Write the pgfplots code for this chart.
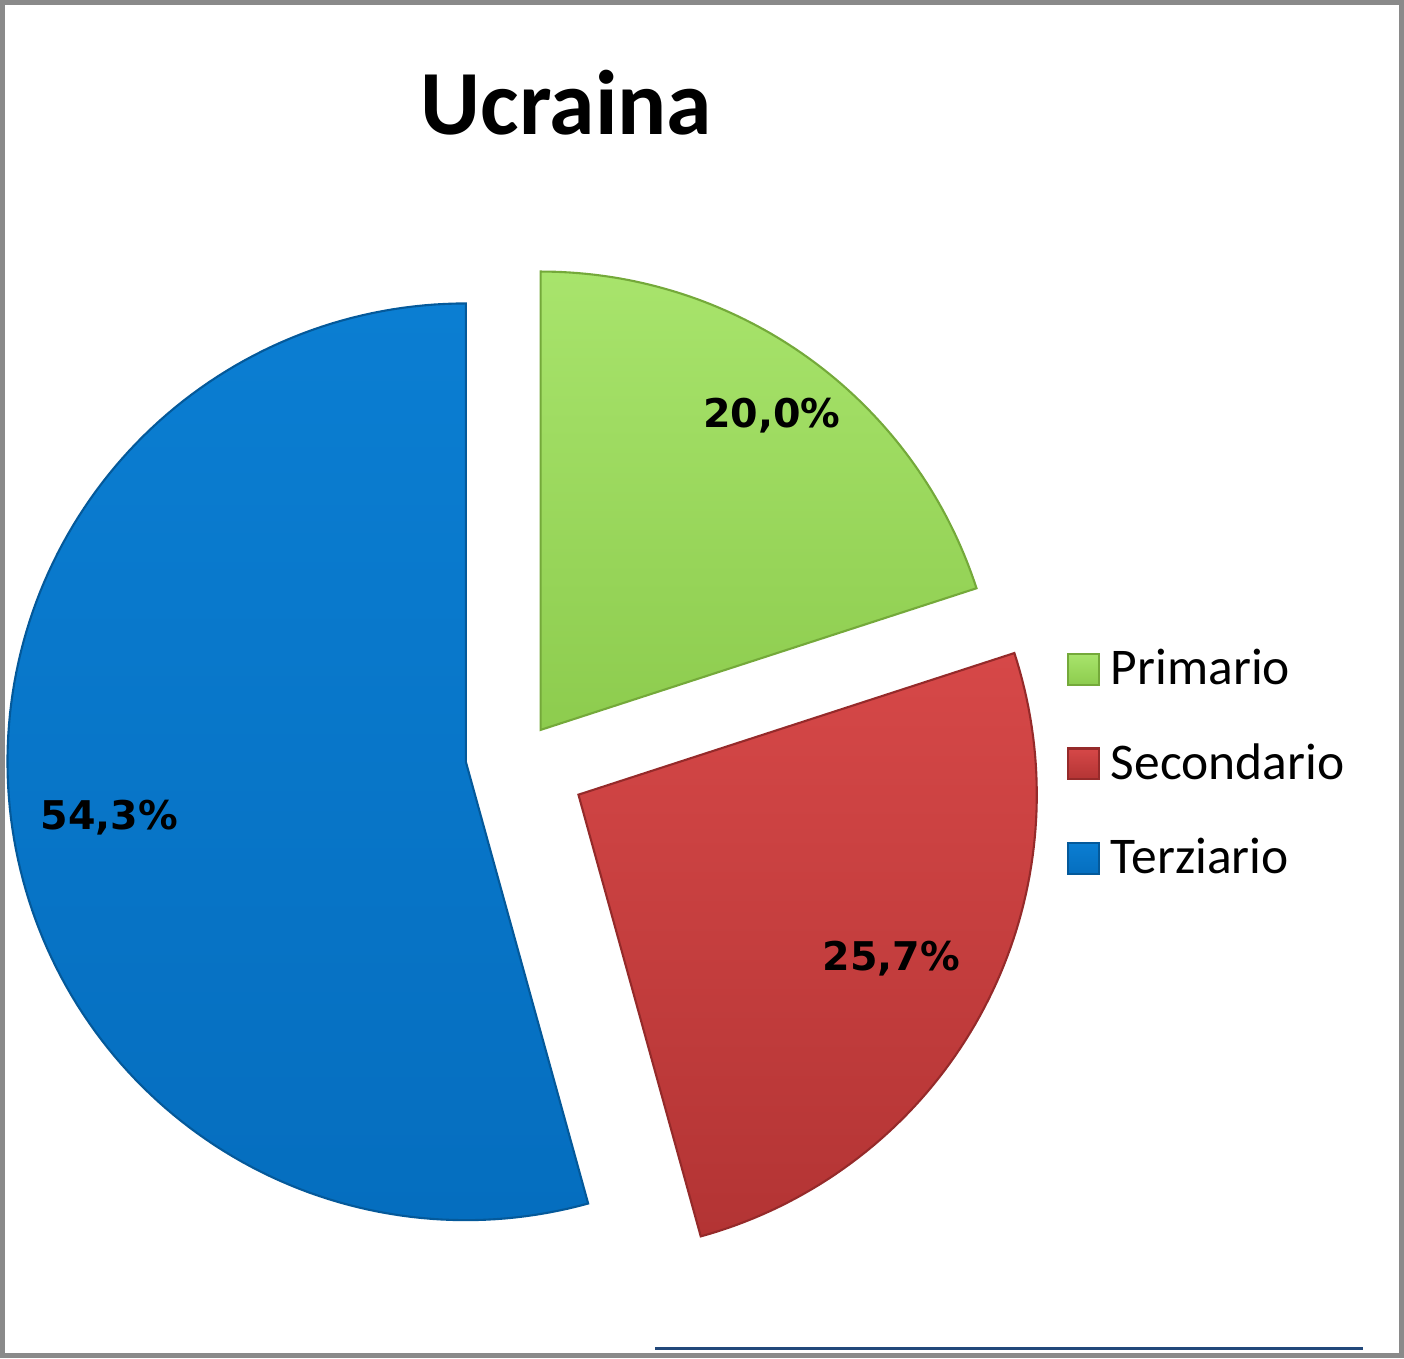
\documentclass[border=0pt]{standalone}
\usepackage{pgfplots}
\pgfplotsset{compat=1.18}
\usepackage{fontspec}
\setmainfont{Carlito}
\newfontfamily\labfont{DejaVu Sans}
\definecolor{gTop}{HTML}{A8E46C}
\definecolor{gBot}{HTML}{8DCC4E}
\definecolor{gEdge}{HTML}{74A93A}
\definecolor{rTop}{HTML}{D64848}
\definecolor{rBot}{HTML}{B33434}
\definecolor{rEdge}{HTML}{952A2A}
\definecolor{bTop}{HTML}{0B7ED2}
\definecolor{bBot}{HTML}{056EBF}
\definecolor{bEdge}{HTML}{04599A}
\definecolor{frame}{HTML}{8A8A8A}
\definecolor{navy}{HTML}{22487A}
% data (percent)
\def\vP{20.0}
\def\vS{25.7}
\def\vT{54.3}
% slice vertices (exploded) and radius, in picture units
\def\R{460}
\def\cxG{540}\def\cyG{730}
\def\cxR{578}\def\cyR{795}
\def\cxB{465}\def\cyB{762}
\pgfmathsetmacro\aA{90}
\pgfmathsetmacro\aB{90-3.6*\vP}
\pgfmathsetmacro\aC{\aB-3.6*\vS}
\pgfmathsetmacro\aD{\aC-3.6*\vT}
\begin{document}
\begin{tikzpicture}
\begin{axis}[
  width=14.04cm, height=13.58cm, scale only axis,
  xmin=0, xmax=1404, ymin=0, ymax=1358, y dir=reverse,
  xtick=\empty, ytick=\empty,
  axis line style={draw=frame, line width=0.05cm},
  clip=false,
  legend cell align=left,
  legend image code/.code={\path[#1] (0cm,-0.155cm) rectangle (0.31cm,0.155cm);
     \path (0.37cm,0cm);},
  legend style={at={(axis cs:1057,636)}, anchor=north west, draw=none, fill=none,
    font=\fontsize{14.7}{17}\selectfont, row sep=0.44cm,
    nodes={inner sep=0.05cm}},
]
\addplot[top color=gTop, bottom color=gBot, draw=gEdge, line width=0.6pt, domain=\aB:\aA, samples=80, variable=\t]
  ({\cxG+\R*cos(\t)},{\cyG-\R*sin(\t)}) -- (\cxG,\cyG) -- cycle;
\addlegendentry{Primario}
\addplot[top color=rTop, bottom color=rBot, draw=rEdge, line width=0.6pt, domain=\aC:\aB, samples=80, variable=\t]
  ({\cxR+\R*cos(\t)},{\cyR-\R*sin(\t)}) -- (\cxR,\cyR) -- cycle;
\addlegendentry{Secondario}
\addplot[top color=bTop, bottom color=bBot, draw=bEdge, line width=0.6pt, domain=\aD:\aC, samples=150, variable=\t]
  ({\cxB+\R*cos(\t)},{\cyB-\R*sin(\t)}) -- (\cxB,\cyB) -- cycle;
\addlegendentry{Terziario}
\node[anchor=base, font=\fontsize{26.2}{30}\selectfont\bfseries] at (axis cs:566,132) {Ucraina};
\node[font=\labfont\fontsize{11.3}{13}\selectfont\bfseries] at (axis cs:772,415) {20,0\%};
\node[font=\labfont\fontsize{11.3}{13}\selectfont\bfseries] at (axis cs:892,960) {25,7\%};
\node[font=\labfont\fontsize{11.3}{13}\selectfont\bfseries] at (axis cs:107,818) {54,3\%};
\draw[navy, line width=0.03cm] (axis cs:655,1351) -- (axis cs:1365,1351);
\end{axis}
\end{tikzpicture}
\end{document}
